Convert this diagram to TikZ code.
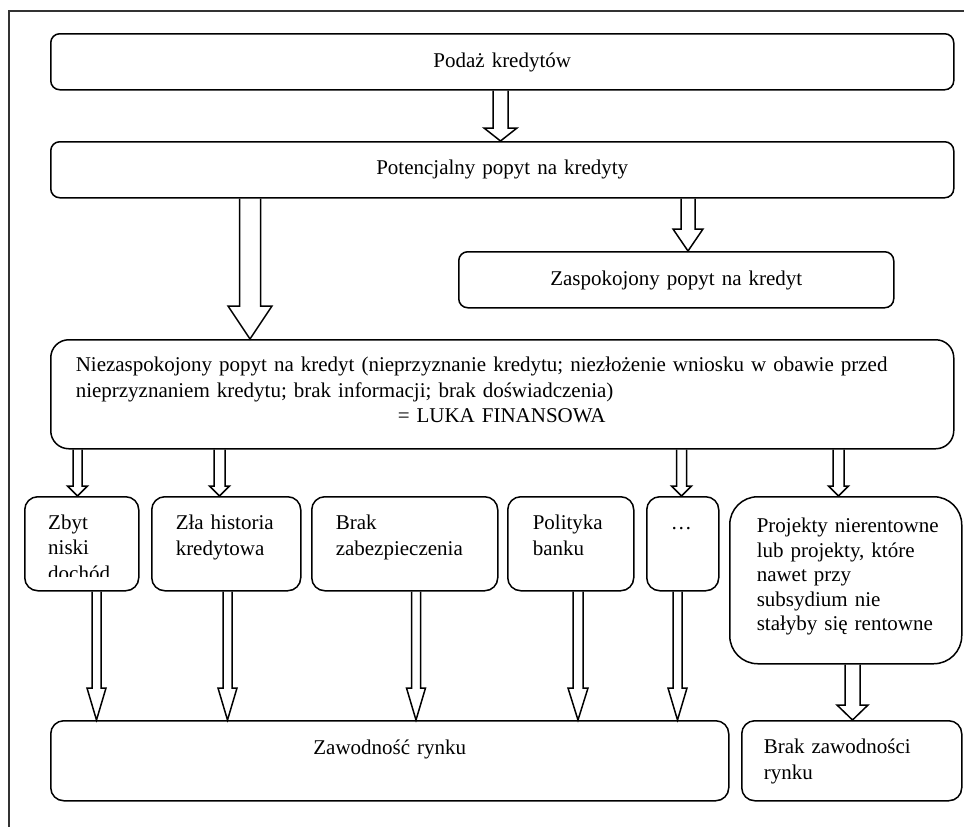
\documentclass[tikz,border=0pt]{standalone}
\usepackage{fontspec}
\setmainfont{Liberation Serif}
\usetikzlibrary{calc}

% block arrow: from node, to node, x, shaft half width, head half width, head length
\newcommand{\blockarrow}[6]{%
  \draw[barrow] let \p1=(#1.south), \p2=(#2.north) in
    (#3pt-#4pt,\y1) -- (#3pt-#4pt,\y2+#6pt) -- (#3pt-#5pt,\y2+#6pt) -- (#3pt,\y2)
    -- (#3pt+#5pt,\y2+#6pt) -- (#3pt+#4pt,\y2+#6pt) -- (#3pt+#4pt,\y1);}

\begin{document}
\begin{tikzpicture}[x=1pt, y=-1pt,
  txt/.style={font=\fontsize{21}{25.5}\selectfont},
  box/.style={txt, draw, line width=1.5pt, anchor=north west, inner ysep=0pt},
  barrow/.style={line width=1.5pt, line join=miter},
  frame/.style={line width=1.1pt, black!80}]

\useasboundingbox (0,0) rectangle (964,827);
\draw[frame] (9,827) -- (9,11) -- (964,11);

\node[box, rounded corners=9pt, align=center, inner xsep=10pt, text width=883pt,
  text height=34pt, text depth=22pt] (podaz) at (50,33) {Podaż kredytów};
\node[box, rounded corners=9pt, align=center, inner xsep=10pt, text width=883pt,
  text height=33pt, text depth=23pt] (potenc) at (50,141) {Potencjalny popyt na kredyty};
\node[box, rounded corners=9pt, align=center, inner xsep=10pt, text width=415pt,
  text height=34pt, text depth=22pt] (zasp) at (458,251) {Zaspokojony popyt na kredyt};
\node[box, rounded corners=18pt, align=left, inner xsep=25pt, text width=853pt,
  text height=32pt, text depth=77pt] (niez) at (50,339)
  {Niezaspokojony popyt na kredyt (nieprzyznanie kredytu; niezłożenie wniosku w obawie przed\\
   nieprzyznaniem kredytu; brak informacji; brak doświadczenia)\\
   \hspace*{322pt}= LUKA FINANSOWA};

% second row
\node[box, rounded corners=13pt, minimum width=114pt, minimum height=94pt, inner sep=0pt] (zbyt) at (24,496) {};
\begin{scope}
  \clip (24,496) rectangle (138,576);
  \node[txt, anchor=base west, align=left, text width=66pt, inner sep=0pt] (zbyttext) at (48,529) {Zbyt\\niski\\dochód};
\end{scope}
\node[box, rounded corners=13pt, align=left, inner xsep=24pt, text width=101pt,
  text height=33pt, text depth=61pt] (zla) at (151,496) {Zła historia\\kredytowa};
\node[box, rounded corners=13pt, align=left, inner xsep=24pt, text width=138pt,
  text height=33pt, text depth=61pt] (brak) at (311,496) {Brak\\zabezpieczenia};
\node[box, rounded corners=13pt, align=left, inner xsep=25pt, text width=76pt,
  text height=33pt, text depth=61pt] (polit) at (507,496) {Polityka\\banku};
\node[box, rounded corners=13pt, align=left, inner xsep=24pt, text width=24pt,
  text height=33pt, text depth=61pt] (etc) at (646,496) {…};
\node[box, rounded corners=28pt, align=left, inner xsep=27pt, text width=178pt,
  text height=36pt, text depth=131pt, font=\fontsize{21}{24.5}\selectfont] (proj) at (729,496)
  {\mbox{Projekty nierentowne}\\lub projekty, które\\nawet przy\\subsydium nie\\\mbox{stałyby się rentowne}};

% bottom row
\node[box, rounded corners=13pt, align=center, inner xsep=10pt, text width=658pt,
  text height=34pt, text depth=46pt] (zaw) at (50,720) {Zawodność rynku};
\node[box, rounded corners=13pt, align=left, inner xsep=22pt, text width=176pt,
  text height=33pt, text depth=47pt] (brakz) at (741,720) {Brak zawodności\\rynku};

% arrows
\blockarrow{podaz}{potenc}{500.5}{7.5}{16.5}{13}
\blockarrow{potenc}{zasp}{688}{7}{15}{22}
\blockarrow{potenc}{niez}{250}{10.5}{22}{33}
\blockarrow{niez}{zbyt}{77.5}{4.5}{10}{10}
\blockarrow{niez}{zla}{219.5}{5.5}{10}{10}
\blockarrow{niez}{etc}{681.5}{5}{10}{10}
\blockarrow{niez}{proj}{838.5}{5.5}{10}{10}
\blockarrow{zbyt}{zaw}{96.5}{4.5}{9.5}{32}
\blockarrow{zla}{zaw}{227.5}{4.5}{9.5}{32}
\blockarrow{brak}{zaw}{416}{4.5}{9.5}{32}
\blockarrow{polit}{zaw}{578}{5}{10}{32}
\blockarrow{etc}{zaw}{677.5}{4.5}{9.5}{32}
\blockarrow{proj}{brakz}{852.5}{7.5}{15.5}{15}

\end{tikzpicture}
\end{document}
